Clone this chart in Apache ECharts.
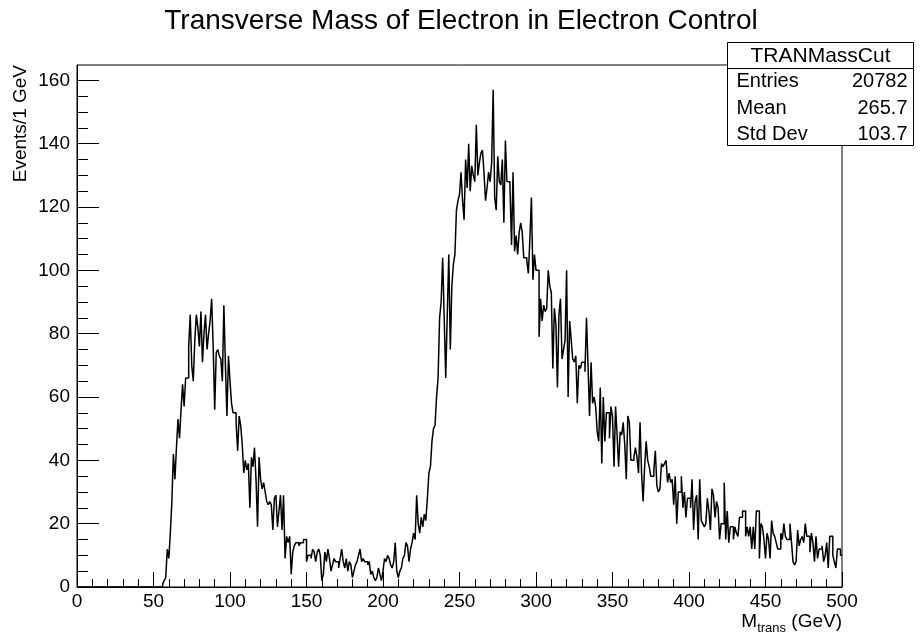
<!DOCTYPE html>
<html>
<head>
<meta charset="utf-8">
<script src="https://cdn.jsdelivr.net/npm/echarts@6/dist/echarts.min.js"></script>
<style>
  html, body { margin: 0; padding: 0; background: #ffffff; }
  #chart { width: 920px; height: 639px; }
</style>
</head>
<body>
<div id="chart"></div>
<script>
// Histogram: transverse mass, 1 GeV bins from 0 to 500 GeV
const histTitle = 'Transverse Mass of Electron in Electron Control';
const statsName = 'TRANMassCut';
const statsRows = [['Entries', '20782'], ['Mean', '265.7'], ['Std Dev', '103.7']];
const binLow = 0;
const binWidth = 1;

// bin contents, in blocks of 50 bins
const counts_0_49 = [
  0,0,0,0,0,0,0,0,0,0, 0,0,0,0,0,0,0,0,0,0, 0,0,0,0,0,0,0,0,0,0,
  0,0,0,0,0,0,0,0,0,0, 0,0,0,0,0,0,0,0,0,0
];
const counts_50_99 = [
  0,0,0,0,0,0,1,2,3,12,
  9,17,27,42,34,44,53,47,56,64,
  57,66,66,76,86,70,65,78,86,82,
  76,87,71,80,86,75,80,84,91,76,
  56,74,75,73,72,65,89,70,54,73
];
const counts_100_149 = [
  65,58,55,55,52,43,54,51,45,36,
  40,37,39,25,41,38,44,34,19,41,
  34,31,33,30,27,26,27,26,18,28,
  29,19,24,29,18,29,9,16,14,16,
  4,11,13,14,14,13,14,14,15,15
];
const counts_150_199 = [
  8,10,10,9,12,11,8,11,12,10,
  2,4,11,8,12,9,5,7,9,8,
  8,6,9,12,8,6,9,5,8,7,
  3,5,7,8,10,12,8,9,8,8,
  7,8,4,5,3,2,3,6,4,2
];
const counts_200_249 = [
  5,9,8,10,9,7,6,8,14,5,
  3,5,6,9,10,14,13,8,12,14,
  17,15,29,20,17,22,19,23,21,28,
  36,38,46,50,51,60,66,85,90,104,
  85,66,86,105,75,95,102,105,119,122
];
const counts_250_299 = [
  124,131,122,116,135,126,140,125,133,130,
  128,146,130,134,137,138,131,122,126,131,
  128,134,157,123,119,136,128,127,135,115,
  141,128,128,126,108,131,106,111,105,112,
  115,112,104,104,103,99,110,123,97,105
];
const counts_300_349 = [
  100,100,79,91,84,89,87,88,100,95,
  93,69,88,83,63,86,91,72,75,78,
  100,60,84,78,72,71,73,58,70,69,
  71,71,68,85,70,54,71,58,60,57,
  49,46,63,39,60,46,55,55,47,57
];
const counts_350_399 = [
  54,38,57,48,38,49,48,52,45,34,
  54,52,40,40,41,44,41,36,52,36,
  27,38,46,40,38,35,35,37,43,32,
  30,31,39,38,39,40,33,36,33,34,
  26,35,20,30,30,35,25,30,22,28
];
const counts_400_449 = [
  28,25,34,18,27,29,15,34,21,20,
  19,20,28,24,18,31,29,22,27,25,
  15,20,20,33,15,24,14,19,19,15,
  19,17,16,22,22,24,24,16,19,16,
  19,12,19,12,24,24,9,20,19,15
];
const counts_450_499 = [
  9,17,15,9,21,17,16,14,12,12,
  17,15,20,16,15,15,20,14,8,7,
  8,18,13,15,16,14,20,16,16,11,
  17,14,8,16,9,12,12,13,8,10,
  14,6,16,16,10,8,6,12,12,10
];

// axis ticks
const xMin = 0, xMax = 500, xStep = 50;
const yTicks = [0, 20, 40, 60, 80, 100, 120, 140, 160];
const yMax = 164.85;

const counts = [].concat(
  counts_0_49, counts_50_99, counts_100_149, counts_150_199, counts_200_249,
  counts_250_299, counts_300_349, counts_350_399, counts_400_449, counts_450_499
);

// step outline: each bin's level starts at its lower edge
const stepData = counts.map((c, i) => [binLow + i * binWidth, c]);
stepData.push([binLow + counts.length * binWidth, counts[counts.length - 1]]);

// minor y ticks every 5 between the labelled ones
const yMinorTicks = [];
for (let i = 0; i < yTicks.length - 1; i++) {
  const step = (yTicks[i + 1] - yTicks[i]) / 4;
  for (let k = 1; k < 4; k++) yMinorTicks.push(yTicks[i] + k * step);
}
for (let v = yTicks[yTicks.length - 1] + 5; v < yMax; v += 5) yMinorTicks.push(v);

const FONT = 'Liberation Sans, Arial, Helvetica, sans-serif';
const GRID = { left: 77, top: 65, width: 765, height: 522 };

const chart = echarts.init(document.getElementById('chart'), null, { renderer: 'canvas' });

const statsBox = { x: 727.5, y: 42.5, w: 186, h: 103, head: 26 };
const statsGraphics = [
  {
    type: 'rect', z: 100,
    shape: { x: statsBox.x, y: statsBox.y, width: statsBox.w, height: statsBox.h },
    style: { fill: '#ffffff', stroke: '#000000', lineWidth: 1 }
  },
  {
    type: 'line', z: 101,
    shape: { x1: statsBox.x, y1: statsBox.y + statsBox.head, x2: statsBox.x + statsBox.w, y2: statsBox.y + statsBox.head },
    style: { stroke: '#000000', lineWidth: 1 }
  },
  {
    type: 'text', z: 101,
    x: statsBox.x + statsBox.w / 2, y: statsBox.y + statsBox.head / 2 + 1,
    style: { text: statsName, fill: '#000', font: '21px ' + FONT, textAlign: 'center', textVerticalAlign: 'middle' }
  }
];
statsRows.forEach((row, i) => {
  const cy = statsBox.y + statsBox.head + 13 + i * 26.5;
  statsGraphics.push({
    type: 'text', z: 101, x: statsBox.x + 9, y: cy,
    style: { text: row[0], fill: '#000', font: '20px ' + FONT, textAlign: 'left', textVerticalAlign: 'middle' }
  });
  statsGraphics.push({
    type: 'text', z: 101, x: statsBox.x + statsBox.w - 6, y: cy,
    style: { text: row[1], fill: '#000', font: '20px ' + FONT, textAlign: 'right', textVerticalAlign: 'middle' }
  });
});

const option = {
  animation: false,
  backgroundColor: '#ffffff',
  grid: {
    left: GRID.left, top: GRID.top, width: GRID.width, height: GRID.height,
    show: true, borderColor: '#000000', borderWidth: 1, backgroundColor: 'transparent'
  },
  xAxis: {
    type: 'value', min: xMin, max: xMax, interval: xStep,
    axisLine: { show: true, lineStyle: { color: '#000', width: 1 } },
    axisTick: { show: true, inside: true, length: 15, lineStyle: { color: '#000', width: 1 } },
    minorTick: { show: true, splitNumber: 5, length: 8, lineStyle: { color: '#000', width: 1 } },
    axisLabel: { color: '#000', fontFamily: FONT, fontSize: 19, margin: 5 },
    splitLine: { show: false }
  },
  yAxis: [
    {
      type: 'value', min: 0, max: yMax,
      axisLine: { show: true, lineStyle: { color: '#000', width: 1 } },
      axisTick: { show: true, inside: true, length: 22, customValues: yTicks, lineStyle: { color: '#000', width: 1 } },
      axisLabel: { color: '#000', fontFamily: FONT, fontSize: 19, margin: 7, customValues: yTicks },
      splitLine: { show: false }
    },
    {
      type: 'value', min: 0, max: yMax, position: 'left',
      axisLine: { show: false },
      axisTick: { show: true, inside: true, length: 11, customValues: yMinorTicks, lineStyle: { color: '#000', width: 1 } },
      axisLabel: { show: false },
      splitLine: { show: false }
    }
  ],
  series: [
    {
      type: 'line', step: 'end', data: stepData, xAxisIndex: 0, yAxisIndex: 0,
      showSymbol: false, symbol: 'none', clip: true,
      lineStyle: { color: '#000000', width: 1.5 },
      emphasis: { disabled: true }
    }
  ],
  graphic: [
    {
      type: 'text', x: 461, y: 21,
      style: { text: histTitle, fill: '#000', font: '28px ' + FONT, textAlign: 'center', textVerticalAlign: 'middle' }
    },
    {
      type: 'text', x: 21, y: GRID.top, rotation: Math.PI / 2,
      style: { text: 'Events/1 GeV', fill: '#000', font: '19px ' + FONT, textAlign: 'right', textVerticalAlign: 'middle' }
    },
    {
      type: 'text', x: GRID.left + GRID.width, y: 622,
      style: {
        text: '{m|M}{s|trans}{m| (GeV)}',
        textAlign: 'right', textVerticalAlign: 'middle',
        rich: {
          m: { fontFamily: FONT, fontSize: 19, fill: '#000', lineHeight: 26, verticalAlign: 'middle' },
          s: { fontFamily: FONT, fontSize: 13, fill: '#000', lineHeight: 14, verticalAlign: 'bottom' }
        }
      }
    }
  ].concat(statsGraphics)
};

chart.setOption(option);
</script>
</body>
</html>
